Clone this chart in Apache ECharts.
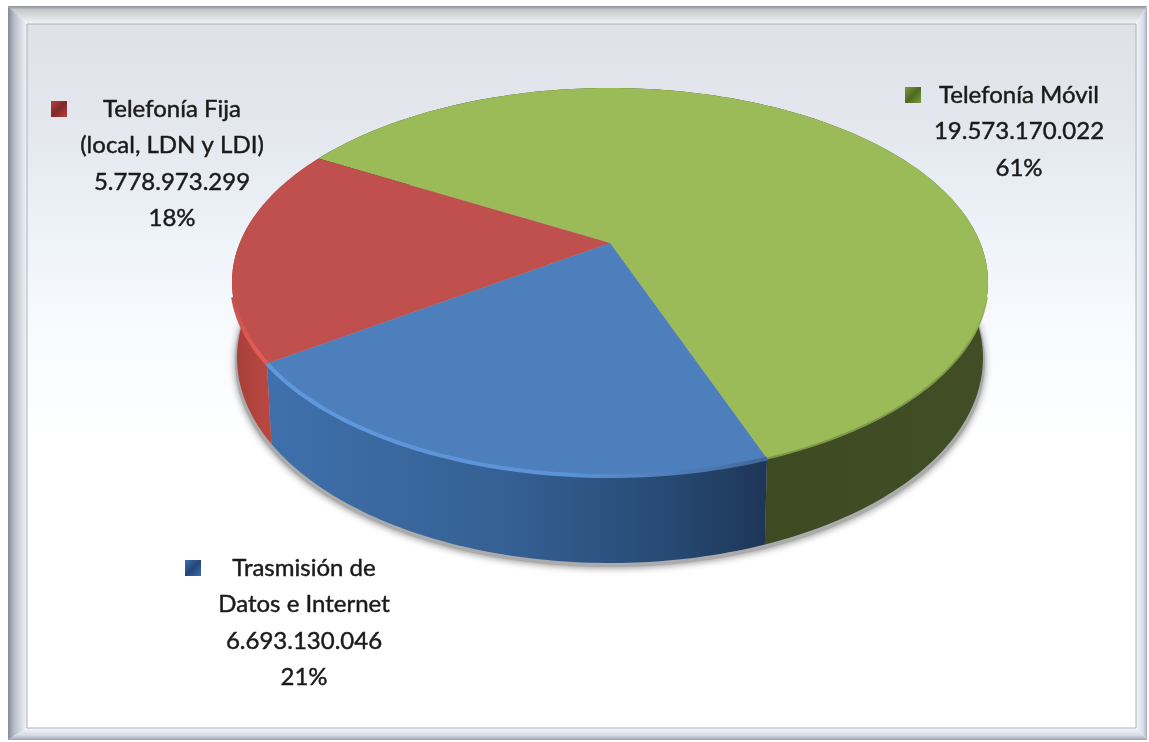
<!DOCTYPE html>
<html>
<head>
<meta charset="utf-8">
<style>
  html, body { margin: 0; padding: 0; background: #fff; }
  #chart { width: 1149px; height: 742px; }
</style>
<script src="https://cdn.jsdelivr.net/npm/echarts@6/dist/echarts.min.js"></script>
</head>
<body>
<div id="chart"></div>
<script>
const categories = ['Telefonía Móvil', 'Trasmisión de Datos e Internet', 'Telefonía Fija (local, LDN y LDI)']
const values = [19573170022, 6693130046, 5778973299]
const valueLabels = ['19.573.170.022', '6.693.130.046', '5.778.973.299']
const percentLabels = ['61%', '21%', '18%']
const nameLines = [['Telefonía Móvil'], ['Trasmisión de', 'Datos e Internet'], ['Telefonía Fija', '(local, LDN y LDI)']]

// pie geometry, fitted to the perspective of the picture
const cx = 610
const topDisc = { cy: 282, rx: 378, ry: 194 }
const baseDisc = { cy: 358, rx: 373, ry: 205 }
const tilt = -0.201
const startAngle = 210

const topColors = ['#9bbb59', '#4d7fbc', '#c0504d']
const markerColors = [['#7c9a3f', '#4f6a20'], ['#3f70ad', '#23457a'], ['#b8403d', '#7f2a28']]
const labelBoxes = [
  { x: 1019, y: 95, mx: 913 },
  { x: 304, y: 568, mx: 193 },
  { x: 172, y: 109, mx: 59 }
]

const total = values.reduce((a, b) => a + b, 0)

function sliceRange(i) {
  let a = startAngle
  for (let k = 0; k < i; k++) a += values[k] / total * 360
  return [a, a + values[i] / total * 360]
}

// unit circle -> tilted disc, straight lines stay straight
function project(deg) {
  const t = deg * Math.PI / 180
  const X = Math.cos(t), Y = Math.sin(t)
  const w = 1 + tilt * Y
  return [X * Math.sqrt(1 - tilt * tilt) / w, (Y + tilt) / w]
}
const onTop = p => [cx + topDisc.rx * p[0], topDisc.cy + topDisc.ry * p[1]]
const onBase = p => [cx + baseDisc.rx * p[0], baseDisc.cy + baseDisc.ry * p[1]]

function arc(a, b, fn) {
  const pts = []
  const n = Math.ceil(Math.abs(b - a))
  for (let i = 0; i <= n; i++) pts.push(fn(project(a + (b - a) * i / n)))
  return pts
}

function gradient(x1, x2, stops) {
  return new echarts.graphic.LinearGradient(x1, 0, x2, 0, stops, true)
}
function vGradient(y1, y2, stops) {
  return new echarts.graphic.LinearGradient(0, y1, 0, y2, stops, true)
}

const wallFills = [
  gradient(760, 985, [{ offset: 0, color: '#3e4a21' }, { offset: 1, color: '#414d24' }]),
  gradient(272, 763, [
    { offset: 0, color: '#3f70ab' },
    { offset: 0.5, color: '#345f92' },
    { offset: 0.8, color: '#274a74' },
    { offset: 1, color: '#1e3759' }
  ]),
  gradient(237, 278, [{ offset: 0, color: '#a83f3a' }, { offset: 1, color: '#bf4a44' }])
]

// soft bevel along the front edge of each slice
const rimStrokes = [
  vGradient(300, 360, [{ offset: 0, color: '#9bbb59' }, { offset: 1, color: '#7d9849' }]),
  gradient(272, 763, [
    { offset: 0, color: '#5f98de' },
    { offset: 0.6, color: '#5b93d6' },
    { offset: 0.9, color: '#4a76ad' },
    { offset: 1, color: '#40699c' }
  ]),
  vGradient(295, 350, [{ offset: 0, color: '#c0504d' }, { offset: 1, color: '#e25c57' }])
]
const rimWidths = [2, 4, 4]

function renderShadow() {
  return {
    type: 'ellipse',
    shape: { cx: cx, cy: baseDisc.cy + 4, rx: baseDisc.rx + 2, ry: baseDisc.ry },
    style: { fill: '#ababab', shadowBlur: 7, shadowColor: 'rgba(90,90,90,0.65)', shadowOffsetY: 1 },
    silent: true
  }
}

function renderWall(params) {
  const [a, b] = sliceRange(params.dataIndex)
  const pts = arc(a, b, onTop).concat(arc(b, a, onBase))
  return { type: 'polygon', shape: { points: pts }, style: { fill: wallFills[params.dataIndex] } }
}

function renderTop(params) {
  const i = params.dataIndex
  const [a, b] = sliceRange(i)
  const apex = [cx, topDisc.cy + topDisc.ry * tilt]
  return {
    type: 'group',
    children: [
      {
        type: 'polygon',
        shape: { points: [apex].concat(arc(a, b, onTop)) },
        style: { fill: topColors[i] }
      },
      {
        type: 'polyline',
        shape: { points: arc(a, b, onTop).filter(p => p[1] > topDisc.cy + 14) },
        style: { stroke: rimStrokes[i], lineWidth: rimWidths[i], fill: 'none' }
      }
    ]
  }
}

function renderLabel(params) {
  const i = params.dataIndex
  const box = labelBoxes[i]
  const lines = nameLines[i].concat([valueLabels[i], percentLabels[i]])
  const [edge, center] = markerColors[i]
  return {
    type: 'group',
    children: [
      {
        type: 'rect',
        shape: { x: box.mx - 8, y: box.y - 8, width: 16, height: 16 },
        style: {
          fill: new echarts.graphic.LinearGradient(0, 0, 1, 1, [
            { offset: 0, color: edge },
            { offset: 0.5, color: center },
            { offset: 1, color: edge }
          ])
        }
      }
    ].concat(lines.map((s, k) => ({
      type: 'text',
      x: box.x,
      y: box.y + k * 36.5,
      style: {
        text: s,
        fill: '#1a1a1a',
        stroke: '#1a1a1a',
        lineWidth: 0.45,
        font: '24px Lato, "Liberation Sans", sans-serif',
        align: 'center',
        verticalAlign: 'middle'
      }
    })))
  }
}

// chart frame
const W = 1149, H = 742
const frame = { l: 8, t: 6, r: 1147, b: 740, il: 27, it: 24, ir: 1136, ib: 728 }
const frameParts = [
  {
    type: 'polygon',
    shape: { points: [[frame.l, frame.t], [frame.r, frame.t], [frame.ir, frame.it], [frame.il, frame.it]] },
    style: {
      fill: new echarts.graphic.LinearGradient(0, 0, 0, 1, [
        { offset: 0, color: '#8d9095' },
        { offset: 0.2, color: '#c6c8cb' },
        { offset: 1, color: '#f4f4f5' }
      ])
    }
  },
  {
    type: 'polygon',
    shape: { points: [[frame.l, frame.t], [frame.il, frame.it], [frame.il, frame.ib], [frame.l, frame.b]] },
    style: {
      fill: new echarts.graphic.LinearGradient(0, 0, 1, 0, [
        { offset: 0, color: '#858b96' },
        { offset: 0.35, color: '#bac0cc' },
        { offset: 1, color: '#f1f4f9' }
      ])
    }
  },
  {
    type: 'polygon',
    shape: { points: [[frame.r, frame.t], [frame.r, frame.b], [frame.ir, frame.ib], [frame.ir, frame.it]] },
    style: {
      fill: new echarts.graphic.LinearGradient(0, 0, 1, 0, [
        { offset: 0, color: '#f2f5fa' },
        { offset: 0.7, color: '#d5dbe6' },
        { offset: 1, color: '#a6adbb' }
      ])
    }
  },
  {
    type: 'polygon',
    shape: { points: [[frame.l, frame.b], [frame.il, frame.ib], [frame.ir, frame.ib], [frame.r, frame.b]] },
    style: {
      fill: new echarts.graphic.LinearGradient(0, 0, 0, 1, [
        { offset: 0, color: '#f3f6fa' },
        { offset: 0.6, color: '#d6dce7' },
        { offset: 1, color: '#9aa2b2' }
      ])
    }
  },
  {
    type: 'rect',
    shape: { x: frame.il, y: frame.it, width: frame.ir - frame.il, height: frame.ib - frame.it },
    style: {
      fill: new echarts.graphic.LinearGradient(0, 0, 0, 1, [
        { offset: 0, color: '#dfe1e6' },
        { offset: 0.18, color: '#e5e9f0' },
        { offset: 0.3, color: '#eef3fa' },
        { offset: 0.45, color: '#f9fbfe' },
        { offset: 0.6, color: '#ffffff' },
        { offset: 1, color: '#ffffff' }
      ]),
      stroke: '#b0b2b6',
      lineWidth: 1
    }
  }
]

const seriesData = categories.map((name, i) => ({ name, value: values[i] }))

const chart = echarts.init(document.getElementById('chart'), null, { renderer: 'canvas', width: W, height: H })
chart.setOption({
  animation: false,
  backgroundColor: '#fff',
  graphic: { elements: frameParts.map(p => Object.assign({ silent: true, z: -10 }, p)) },
  series: [
    { type: 'custom', coordinateSystem: 'none', z: 1, data: [total], renderItem: renderShadow },
    { type: 'custom', coordinateSystem: 'none', z: 2, data: seriesData, renderItem: renderWall },
    { type: 'custom', coordinateSystem: 'none', z: 3, data: seriesData, renderItem: renderTop },
    { type: 'custom', coordinateSystem: 'none', z: 4, data: seriesData, renderItem: renderLabel }
  ]
})
</script>
</body>
</html>
